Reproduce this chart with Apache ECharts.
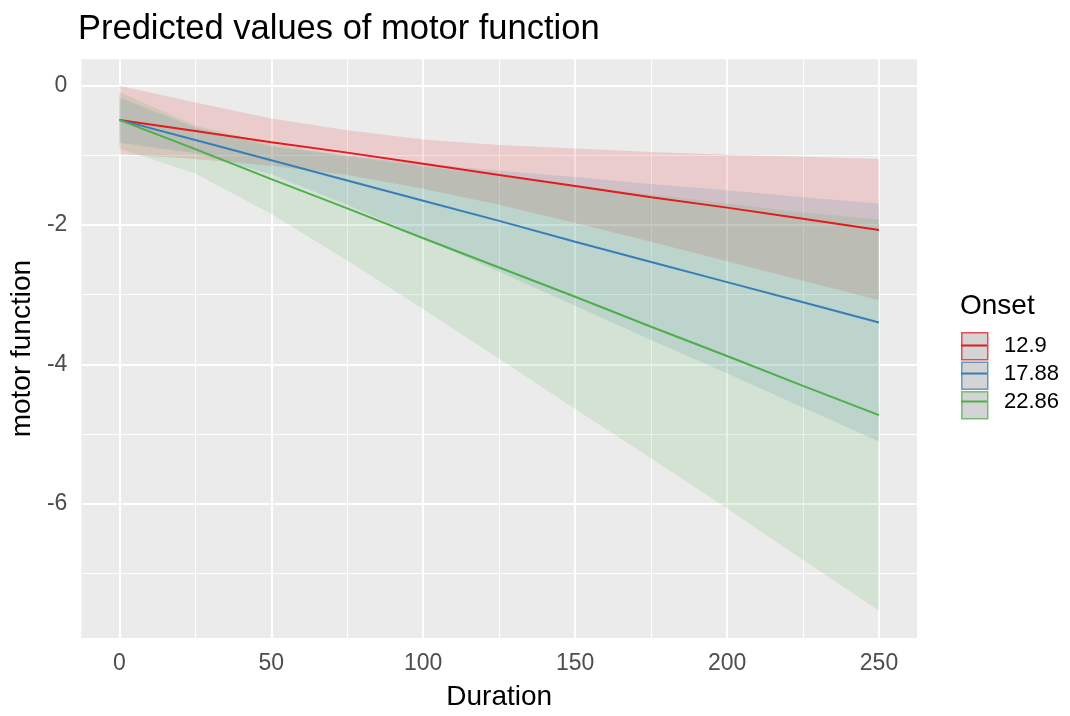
<!DOCTYPE html>
<html><head><meta charset="utf-8">
<script src="https://cdn.jsdelivr.net/npm/echarts@6/dist/echarts.min.js"></script>
<style>html,body{margin:0;padding:0;background:#fff}#c{width:1070px;height:716px}</style>
</head><body><div id="c"></div>
<script>
// ---- data ----
const duration = [0, 25, 50, 75, 100, 125, 150, 175, 200, 225, 250];
const onsetLevels = ['12.9', '17.88', '22.86'];

const fit_12_9   = [-0.49, -0.65, -0.81, -0.96, -1.12, -1.28, -1.44, -1.60, -1.75, -1.91, -2.07];
const upper_12_9 = [ 0.00, -0.24, -0.47, -0.64, -0.77, -0.85, -0.90, -0.95, -0.99, -1.02, -1.05];
const lower_12_9 = [-0.98, -1.05, -1.15, -1.28, -1.48, -1.71, -1.97, -2.24, -2.52, -2.80, -3.08];

const fit_17_88   = [-0.49, -0.78, -1.07, -1.36, -1.65, -1.94, -2.24, -2.53, -2.82, -3.11, -3.40];
const upper_17_88 = [-0.17, -0.60, -0.87, -1.01, -1.12, -1.22, -1.31, -1.41, -1.50, -1.60, -1.69];
const lower_17_88 = [-0.82, -0.97, -1.27, -1.71, -2.19, -2.67, -3.16, -3.65, -4.13, -4.62, -5.11];

const fit_22_86   = [-0.49, -0.91, -1.34, -1.76, -2.19, -2.61, -3.03, -3.46, -3.88, -4.31, -4.73];
const upper_22_86 = [-0.09, -0.57, -0.84, -1.01, -1.16, -1.30, -1.43, -1.56, -1.69, -1.82, -1.92];
const lower_22_86 = [-0.90, -1.26, -1.84, -2.51, -3.21, -3.92, -4.64, -5.35, -6.07, -6.81, -7.54];

const xTicks = [0, 50, 100, 150, 200, 250];
const xMinor = [25, 75, 125, 175, 225];
const yTicks = [-6, -4, -2, 0];
const yMinor = [-7, -5, -3, -1];

// ---- styling ----
const colors = ['#E41A1C', '#377EB8', '#4DAF4A'];
const rgba = (hex, a) => {
  const n = parseInt(hex.slice(1), 16);
  return `rgba(${(n >> 16) & 255},${(n >> 8) & 255},${n & 255},${a})`;
};
const FONT = '"Liberation Sans", Arial, sans-serif';

const groups = [
  { fit: fit_12_9, up: upper_12_9, lo: lower_12_9 },
  { fit: fit_17_88, up: upper_17_88, lo: lower_17_88 },
  { fit: fit_22_86, up: upper_22_86, lo: lower_22_86 }
];

const series = [];
// grid lines (drawn under the ribbons)
series.push({
  type: 'line', name: 'grid', data: [], silent: true,
  markLine: {
    silent: true, z: 1, animation: false, symbol: ['none', 'none'],
    label: { show: false },
    lineStyle: { color: '#FFFFFF', type: 'solid', width: 2 },
    emphasis: { disabled: true },
    data: [
      ...xMinor.map(v => ({ xAxis: v, lineStyle: { width: 1, color: '#FFFFFF', type: 'solid' } })),
      ...yMinor.map(v => ({ yAxis: v, lineStyle: { width: 1, color: '#FFFFFF', type: 'solid' } })),
      ...xTicks.map(v => ({ xAxis: v, lineStyle: { width: 2, color: '#FFFFFF', type: 'solid' } })),
      ...yTicks.map(v => ({ yAxis: v, lineStyle: { width: 2, color: '#FFFFFF', type: 'solid' } }))
    ]
  }
});
// confidence ribbons: one polygon per group, vertices placed by the axes
groups.forEach((g, i) => {
  series.push({
    type: 'custom', name: 'ci' + i, silent: true, z: 2,
    data: duration.map((d, k) => [d, g.lo[k], g.up[k]]),
    encode: { x: 0, y: [1, 2] },
    renderItem: (params, api) => {
      if (params.dataIndex !== 0) return null;
      const pts = [];
      for (let k = 0; k < duration.length; k++) pts.push(api.coord([duration[k], g.up[k]]));
      for (let k = duration.length - 1; k >= 0; k--) pts.push(api.coord([duration[k], g.lo[k]]));
      return { type: 'polygon', shape: { points: pts }, style: { fill: rgba(colors[i], 0.15), stroke: null } };
    }
  });
});
// fitted lines
groups.forEach((g, i) => {
  series.push({
    type: 'line', name: onsetLevels[i],
    data: duration.map((d, k) => [d, g.fit[k]]),
    symbol: 'none', z: 3, silent: true,
    lineStyle: { color: colors[i], width: 2 },
    itemStyle: { color: colors[i] }
  });
});

const legendBase = {
  orient: 'vertical', left: 961, top: 332, padding: 0,
  itemWidth: 26, itemHeight: 27, itemGap: 1, selectedMode: false
};

const option = {
  animation: false,
  backgroundColor: '#FFFFFF',
  textStyle: { fontFamily: FONT },
  title: [
    { text: 'Predicted values of motor function', left: 78, top: 12, padding: 0,
      textStyle: { fontSize: 34.5, fontWeight: 'normal', color: '#000', fontFamily: FONT } },
    { text: 'Onset', left: 960, top: 292, padding: 0,
      textStyle: { fontSize: 28, fontWeight: 'normal', color: '#000', fontFamily: FONT } }
  ],
  legend: [
    Object.assign({}, legendBase, {
      data: onsetLevels.map((n, i) => ({
        name: n, icon: 'rect',
        itemStyle: { color: '#D4D4D4', borderColor: rgba(colors[i], 0.75), borderWidth: 1.5 }
      })),
      formatter: () => '',
      textStyle: { fontSize: 22, lineHeight: 27 }
    }),
    Object.assign({}, legendBase, {
      data: onsetLevels.map((n, i) => ({
        name: n, icon: 'path://M0,0H26V2H0Z',
        itemStyle: { color: colors[i], borderWidth: 0 }
      })),
      textStyle: { fontSize: 22, lineHeight: 27, color: '#000', fontFamily: FONT, padding: [0, 0, 0, 12] }
    })
  ],
  grid: {
    left: 79, top: 59.3, width: 838, height: 588, show: true,
    backgroundColor: '#EBEBEB', borderWidth: 0, containLabel: false
  },
  xAxis: {
    type: 'value', min: -12.5, max: 262.5,
    name: 'Duration', nameLocation: 'middle', nameGap: 45,
    nameTextStyle: { fontSize: 28, color: '#000', fontFamily: FONT },
    axisLine: { show: false },
    splitLine: { show: false },
    axisTick: { show: true, customValues: xTicks, length: 7, lineStyle: { color: '#333333', width: 2 } },
    axisLabel: { customValues: xTicks, margin: 14, fontSize: 23, color: '#4D4D4D', fontFamily: FONT }
  },
  yAxis: {
    type: 'value', min: -7.93, max: 0.38,
    name: 'motor function', nameLocation: 'middle', nameGap: 30, nameRotate: 90,
    nameTextStyle: { fontSize: 28, color: '#000', fontFamily: FONT },
    axisLine: { show: false },
    splitLine: { show: false },
    axisTick: { show: true, customValues: yTicks, length: 7, lineStyle: { color: '#333333', width: 2 } },
    axisLabel: { customValues: yTicks, margin: 14, fontSize: 23, color: '#4D4D4D', fontFamily: FONT }
  },
  series: series
};

const chart = echarts.init(document.getElementById('c'), null, { renderer: 'canvas' });
chart.setOption(option);
</script>
</body></html>
